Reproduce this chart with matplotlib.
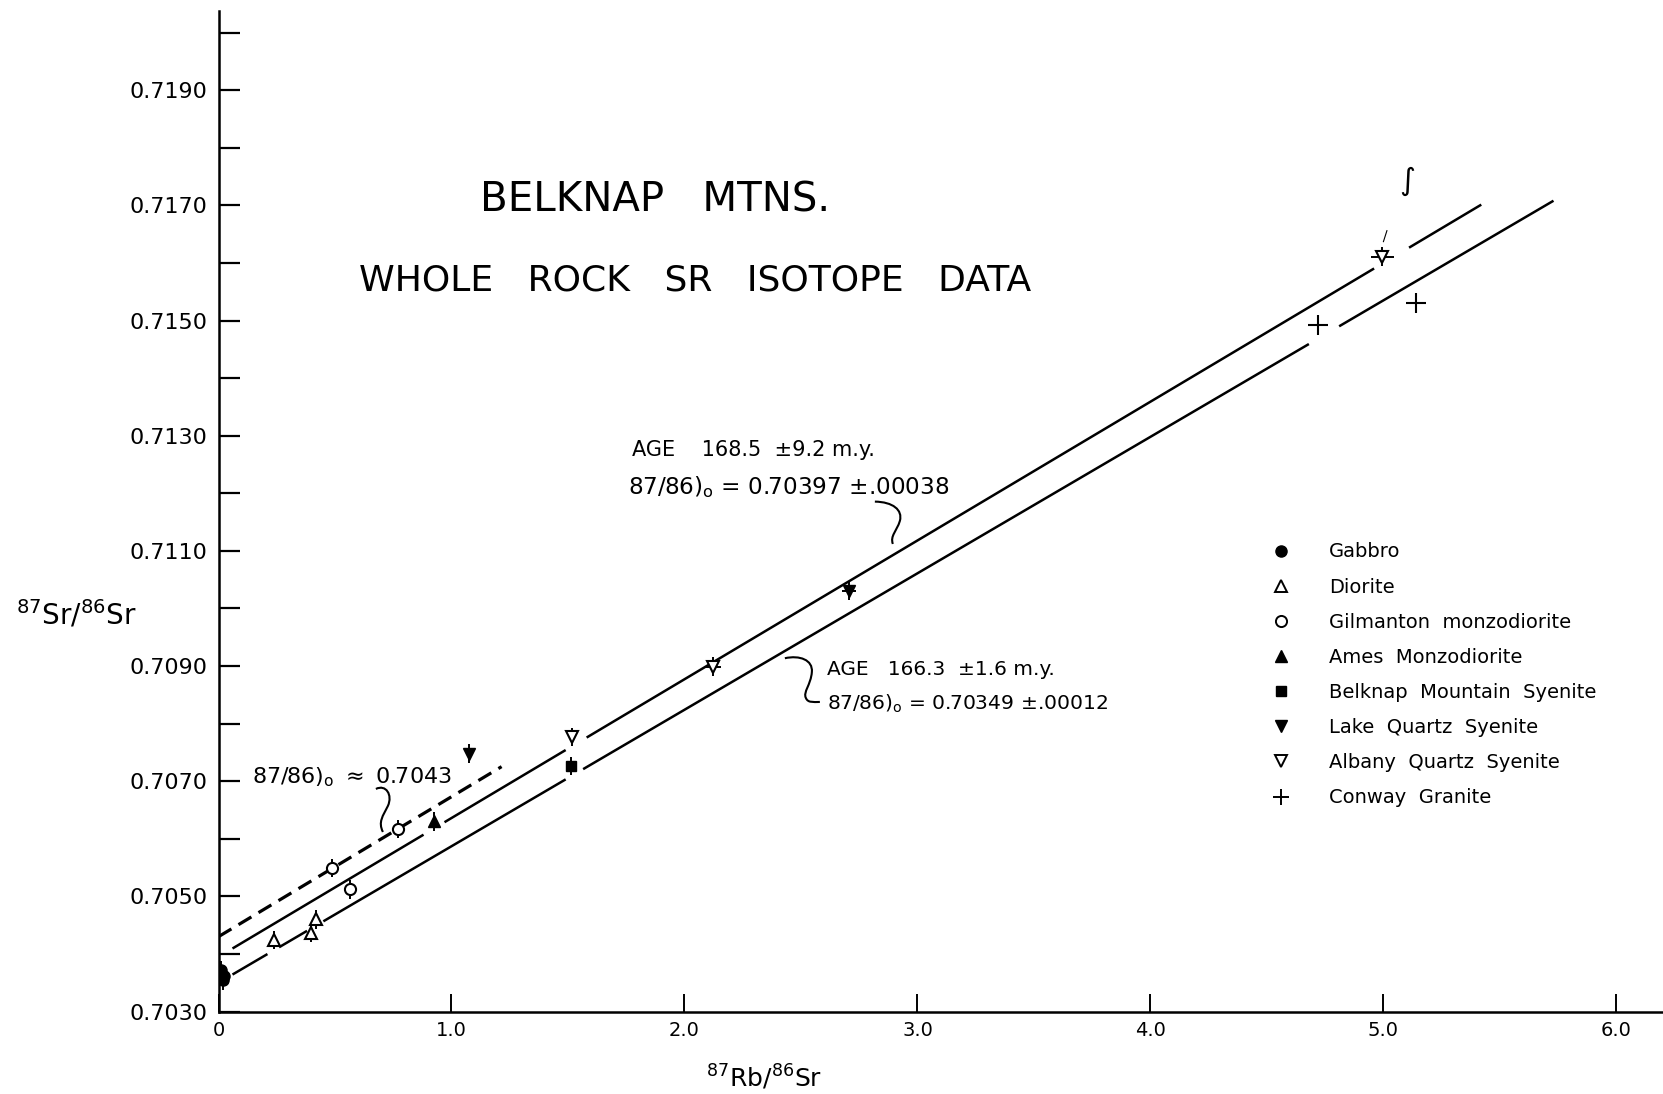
import matplotlib
matplotlib.use("Agg")
import matplotlib.pyplot as plt
from matplotlib.path import Path
from matplotlib.patches import PathPatch
from matplotlib.lines import Line2D
import numpy as np

# 87Rb/86Sr (x) and 87Sr/86Sr (y)
gabbro_x = [0.010, 0.025, 0.020]
gabbro_y = [0.70372, 0.70362, 0.70354]
diorite_x = [0.238, 0.396, 0.417]
diorite_y = [0.70424, 0.70437, 0.70460]
gilmanton_x = [0.488, 0.564, 0.769]
gilmanton_y = [0.70549, 0.70512, 0.70617]
ames_x = [0.926]
ames_y = [0.70630]
belknap_x = [1.511]
belknap_y = [0.70726]
lake_x = [1.076, 2.707]
lake_y = [0.70748, 0.71031]
lake_xerr = [0.0, 0.03]
albany_x = [1.518, 2.121, 4.996]
albany_y = [0.70777, 0.70899, 0.71611]
albany_xerr = [0.0, 0.035, 0.05]
conway_x = [4.720, 5.139]
conway_y = [0.71492, 0.71531]
sr_err = 0.00016

# isochrons: intercept, slope, drawn pieces (gaps around points)
upper_fit = (0.70395, 0.00241)
upper_pieces = [(0.06, 0.88), (0.97, 1.49), (1.58, 4.96), (5.11, 5.42)]
lower_fit = (0.70350, 0.00237)
lower_pieces = [(0.06, 0.21), (0.26, 0.38), (0.45, 1.49), (1.565, 4.68), (4.81, 5.73)]
dash_fit = (0.7043, 0.00243)
dash_piece = (0.0, 1.215)

xticks = [0, 1, 2, 3, 4, 5, 6]
xticklabels = ["0", "1.0", "2.0", "3.0", "4.0", "5.0", "6.0"]
yticks = [0.7030, 0.7050, 0.7070, 0.7090, 0.7110, 0.7130, 0.7150, 0.7170, 0.7190]
yminor = [0.7040, 0.7060, 0.7080, 0.7100, 0.7120, 0.7140, 0.7160, 0.7180, 0.7200]

fig = plt.figure(figsize=(16.63, 10.94), dpi=100)
ax = fig.add_axes([0.1314, 0.0754, 0.8686, 0.9148])
ax.set_xlim(0, 6.2)
ax.set_ylim(0.7030, 0.72038)

for sp in ["top", "right"]:
    ax.spines[sp].set_visible(False)
for sp in ["left", "bottom"]:
    ax.spines[sp].set_linewidth(1.8)

# isochron lines
a, b = upper_fit
for x0, x1 in upper_pieces:
    xs = np.array([x0, x1])
    ax.plot(xs, a + b * xs, color="k", lw=1.8, solid_capstyle="butt", zorder=1)
a, b = lower_fit
for x0, x1 in lower_pieces:
    xs = np.array([x0, x1])
    ax.plot(xs, a + b * xs, color="k", lw=1.8, solid_capstyle="butt", zorder=1)
xs = np.array(dash_piece)
dl, = ax.plot(xs, dash_fit[0] + dash_fit[1] * xs, color="k", lw=2.3, zorder=1)
dl.set_dashes((4.7, 2.6))

# error ticks
ek = dict(fmt="none", ecolor="k", elinewidth=1.4, capsize=0, zorder=2)
ax.errorbar(gabbro_x, gabbro_y, yerr=sr_err, **ek)
ax.errorbar(diorite_x, diorite_y, yerr=sr_err, **ek)
ax.errorbar(gilmanton_x, gilmanton_y, yerr=sr_err, **ek)
ax.errorbar(ames_x, ames_y, yerr=sr_err, **ek)
ax.errorbar(belknap_x, belknap_y, yerr=sr_err, **ek)
ax.errorbar(lake_x, lake_y, yerr=sr_err, xerr=lake_xerr, **ek)
ax.errorbar(albany_x, albany_y, yerr=sr_err, xerr=albany_xerr, **ek)

# sample markers
ax.plot(gabbro_x, gabbro_y, ls="none", marker="o", ms=8, mfc="k", mec="k", zorder=3)
ax.plot(diorite_x, diorite_y, ls="none", marker="^", ms=8, mfc="white", mec="k", mew=1.5, zorder=3)
ax.plot(gilmanton_x, gilmanton_y, ls="none", marker="o", ms=8, mfc="white", mec="k", mew=1.5, zorder=3)
ax.plot(ames_x, ames_y, ls="none", marker="^", ms=8, mfc="k", mec="k", zorder=3)
ax.plot(belknap_x, belknap_y, ls="none", marker="s", ms=7, mfc="k", mec="k", zorder=3)
ax.plot(lake_x, lake_y, ls="none", marker="v", ms=8, mfc="k", mec="k", zorder=3)
ax.plot(albany_x, albany_y, ls="none", marker="v", ms=8, mfc="white", mec="k", mew=1.5, zorder=3)
ax.plot(conway_x, conway_y, ls="none", marker="+", ms=15, mec="k", mew=1.5, zorder=3)

# ticks
ax.set_xticks(xticks)
ax.set_xticklabels(xticklabels)
ax.set_yticks(yticks)
ax.set_yticklabels(["%.4f" % v for v in yticks])
ax.set_yticks(yminor, minor=True)
ax.tick_params(axis="y", which="both", direction="in", length=15, width=1.6, labelsize=16, pad=8)
ax.tick_params(axis="x", which="major", direction="in", length=13, width=1.4, labelsize=14, pad=7)

# titles
ax.text(1.873, 0.71690, "BELKNAP   MTNS.", fontsize=29, ha="center", va="baseline")
ax.text(2.045, 0.71552, "WHOLE   ROCK   SR   ISOTOPE   DATA", fontsize=26, ha="center", va="baseline")

# age annotations
ax.text(1.773, 0.71265, "AGE    168.5  \u00b19.2 m.y.", fontsize=15, va="baseline")
ax.text(1.758, 0.71199, r"87/86)$_\mathrm{o}$ = 0.70397 $\pm$.00038", fontsize=16.7, va="baseline")
ax.text(2.610, 0.70885, "AGE   166.3  \u00b11.6 m.y.", fontsize=14.5, va="baseline")
ax.text(2.610, 0.70824, r"87/86)$_\mathrm{o}$ = 0.70349 $\pm$.00012", fontsize=14.6, va="baseline")
ax.text(0.145, 0.70697, r"87/86)$_\mathrm{o}$ $\approx$ 0.7043", fontsize=16, va="baseline")

# hand-drawn leaders
C = Path.CURVE4
squiggles = [
    [(2.8172, 0.711855), (2.8944, 0.711850), (2.9373, 0.711711), (2.9245, 0.711520),
     (2.9116, 0.711346), (2.8815, 0.711259), (2.8944, 0.711120)],
    [(2.4309, 0.709135), (2.4953, 0.709192), (2.5511, 0.709105), (2.5468, 0.708897),
     (2.5425, 0.708671), (2.5082, 0.708550), (2.5210, 0.708446),
     (2.5296, 0.708359), (2.5511, 0.708376), (2.5811, 0.708376)],
    [(0.6755, 0.706865), (0.7185, 0.706952), (0.7485, 0.706761), (0.7270, 0.706570),
     (0.7056, 0.706396), (0.6841, 0.706292), (0.7056, 0.706118)],
]
for pts in squiggles:
    codes = [Path.MOVETO] + [C] * (len(pts) - 1)
    ax.add_patch(PathPatch(Path(pts, codes), fill=False, lw=1.5, ec="k"))

ax.text(5.100, 0.71741, "\u222b", fontsize=22, ha="center", va="center")
ax.plot([5.015, 5.000], [0.71656, 0.71637], color="k", lw=0.8)

# axis labels
fig.text(0.0096, 0.429, r"$\mathregular{^{87}Sr/^{86}Sr}$", fontsize=20, va="baseline")
fig.text(0.4592, 0.0064, r"$\mathregular{^{87}Rb/^{86}Sr}$", fontsize=18, ha="center", va="baseline")

# legend
handles = [
    Line2D([], [], ls="none", marker="o", ms=8, mfc="k", mec="k"),
    Line2D([], [], ls="none", marker="^", ms=8, mfc="white", mec="k", mew=1.4),
    Line2D([], [], ls="none", marker="o", ms=8, mfc="white", mec="k", mew=1.4),
    Line2D([], [], ls="none", marker="^", ms=8, mfc="k", mec="k"),
    Line2D([], [], ls="none", marker="s", ms=7, mfc="k", mec="k"),
    Line2D([], [], ls="none", marker="v", ms=8, mfc="k", mec="k"),
    Line2D([], [], ls="none", marker="v", ms=8, mfc="white", mec="k", mew=1.4),
    Line2D([], [], ls="none", marker="+", ms=11, mec="k", mew=1.4),
]
labels = ["Gabbro", "Diorite", "Gilmanton  monzodiorite", "Ames  Monzodiorite",
          "Belknap  Mountain  Syenite", "Lake  Quartz  Syenite", "Albany  Quartz  Syenite",
          "Conway  Granite"]
ax.legend(handles, labels, loc="upper left", bbox_to_anchor=(1271.3 / 1663, 1 - 542.4 / 1094),
          bbox_transform=fig.transFigure, frameon=False, fontsize=14, handlelength=1.0,
          handletextpad=1.97, labelspacing=0.83, borderpad=0, borderaxespad=0, numpoints=1)

fig.savefig("out.png", dpi=100)
